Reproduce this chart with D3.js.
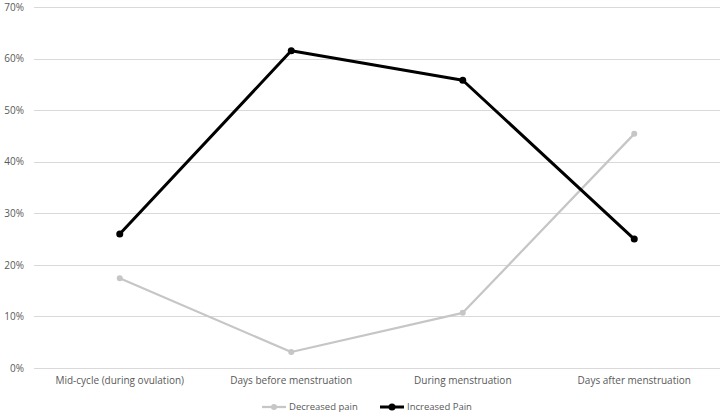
<!DOCTYPE html>
<html>
<head>
<meta charset="utf-8">
<script src="https://cdn.jsdelivr.net/npm/d3@7"></script>
<style>
    body { margin: 0; background: #fff; }
    svg text { font-family: "Open Sans", "Liberation Sans", sans-serif; fill: #595959; }
</style>
</head>
<body>
<div id="chart"></div>
<script>
// chart data
const categories = ["Mid-cycle (during ovulation)", "Days before menstruation", "During menstruation", "Days after menstruation"];
const decreasedPain = [0.174, 0.031, 0.107, 0.454];
const increasedPain = [0.260, 0.615, 0.558, 0.250];
const yTicks = [0, 0.1, 0.2, 0.3, 0.4, 0.5, 0.6, 0.7];

const series = [
    {name: "Decreased pain", values: decreasedPain, color: "#c6c6c6", width: 2.25, r: 3},
    {name: "Increased Pain", values: increasedPain, color: "#000000", width: 3, r: 3.5}
];

const width = 720, height = 415;
const margin = {top: 7, right: 0, bottom: 47, left: 34};

const svg = d3.select("#chart").append("svg")
    .attr("width", width)
    .attr("height", height);

const x = d3.scaleBand()
    .domain(categories)
    .range([margin.left, width - margin.right]);

const y = d3.scaleLinear()
    .domain([0, 0.7])
    .range([height - margin.bottom, margin.top]);

// gridlines
svg.append("g")
    .selectAll("line")
    .data(yTicks)
    .enter()
    .append("line")
    .attr("x1", margin.left)
    .attr("x2", width - margin.right)
    .attr("y1", d => Math.round(y(d)) + 0.5)
    .attr("y2", d => Math.round(y(d)) + 0.5)
    .attr("stroke", "#d9d9d9")
    .attr("stroke-width", 1);

// y axis labels
const yAxis = svg.append("g")
    .attr("transform", "translate(" + margin.left + ",0)")
    .call(d3.axisLeft(y).tickValues(yTicks).tickFormat(d3.format(".0%")).tickSize(0).tickPadding(10));
yAxis.select(".domain").remove();
yAxis.selectAll("text").style("font-size", "10px").style("fill", "#595959");

// x axis labels
const xAxis = svg.append("g")
    .attr("transform", "translate(0," + (height - margin.bottom) + ")")
    .call(d3.axisBottom(x).tickSize(0).tickPadding(9));
xAxis.select(".domain").remove();
xAxis.selectAll("text").style("font-size", "10px").style("fill", "#595959");

const line = d3.line()
    .x((d, i) => x(categories[i]) + x.bandwidth() / 2)
    .y(d => y(d));

series.forEach(s => {
    svg.append("path")
        .datum(s.values)
        .attr("fill", "none")
        .attr("stroke", s.color)
        .attr("stroke-width", s.width)
        .attr("stroke-linejoin", "round")
        .attr("d", line);

    svg.append("g")
        .selectAll("circle")
        .data(s.values)
        .enter()
        .append("circle")
        .attr("cx", (d, i) => x(categories[i]) + x.bandwidth() / 2)
        .attr("cy", d => y(d))
        .attr("r", s.r)
        .attr("fill", s.color);
});

// legend
const legendX = [262, 380];
const legend = svg.append("g")
    .selectAll("g")
    .data(series)
    .enter()
    .append("g")
    .attr("transform", (d, i) => "translate(" + legendX[i] + "," + 407 + ")");

legend.append("line")
    .attr("x1", 0).attr("x2", 24)
    .attr("stroke", d => d.color)
    .attr("stroke-width", d => d.width);
legend.append("circle")
    .attr("cx", 12)
    .attr("r", d => d.r)
    .attr("fill", d => d.color);
legend.append("text")
    .attr("x", 27)
    .attr("dy", "0.35em")
    .style("font-size", "9.5px")
    .text(d => d.name);
</script>
</body>
</html>
